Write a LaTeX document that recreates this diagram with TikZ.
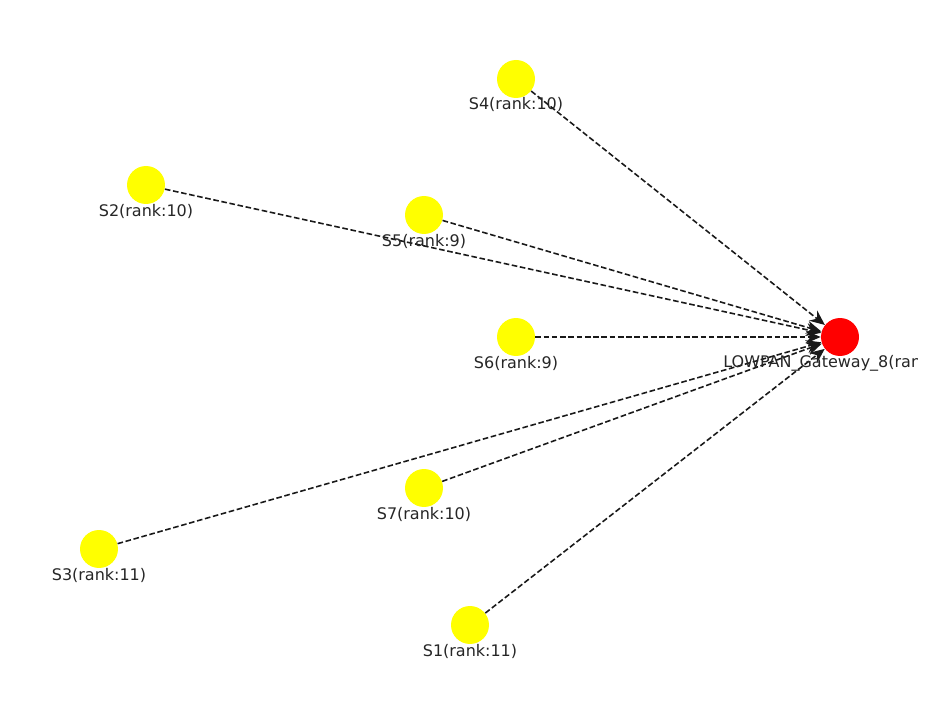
\documentclass[tikz,border=0pt]{standalone}
\usepackage{fontspec}
\setmainfont{DejaVu Sans}
\usetikzlibrary{arrows.meta}
\definecolor{sensor}{HTML}{FFFF00}
\definecolor{gateway}{HTML}{FF0000}

\begin{document}
\begin{tikzpicture}[
  x=0.02cm,y=-0.02cm,
  sensor/.style={circle,fill=sensor,minimum size=0.76cm,inner sep=0pt},
  gw/.style={circle,fill=gateway,minimum size=0.76cm,inner sep=0pt},
  lbl/.style={font=\fontsize{9.1}{10}\selectfont,inner sep=0pt,text=black!85},
  arr/.style={-{Stealth[length=3mm,width=2.6mm]},line width=0.9pt,dash pattern=on 3.2pt off 1.5pt,draw=black!90}
]
  \useasboundingbox (0,0) rectangle (940,705);
  % nodes
  \node[sensor] (s4) at (516,79) {};
  \node[sensor] (s2) at (146,185) {};
  \node[sensor] (s5) at (424,215) {};
  \node[sensor] (s6) at (516,337) {};
  \node[sensor] (s7) at (424,488) {};
  \node[sensor] (s3) at (99,549) {};
  \node[sensor] (s1) at (470,625) {};
  \node[gw] (gw8) at (840,337) {};
  % edges
  \foreach \s in {s4,s2,s5,s6,s3,s7,s1}
    \draw[arr] (\s) -- (gw8);
  % labels
  \node[lbl] (s4l) at (516,104) {S4(rank:10)};
  \node[lbl] (s2l) at (146,211) {S2(rank:10)};
  \node[lbl] (s5l) at (424,241) {S5(rank:9)};
  \node[lbl] (s6l) at (516,363) {S6(rank:9)};
  \node[lbl] (s7l) at (424,514) {S7(rank:10)};
  \node[lbl] (s3l) at (99,575) {S3(rank:11)};
  \node[lbl] (s1l) at (470,651) {S1(rank:11)};
  \begin{scope}
    \clip (0,0) rectangle (917,705);
    \node[lbl,anchor=west] (gw8l) at (723,363) {LOWPAN\_Gateway\_8(rank:8)};
  \end{scope}
\end{tikzpicture}
\end{document}
